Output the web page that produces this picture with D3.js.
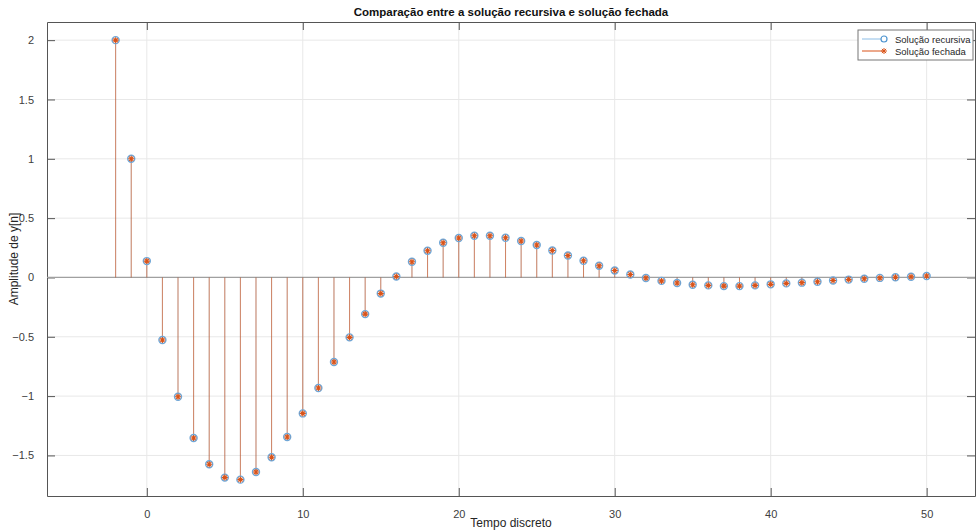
<!DOCTYPE html>
<html>
<head>
<meta charset="utf-8">
<script src="https://cdn.jsdelivr.net/npm/d3@7"></script>
<style>
  body { margin: 0; background: #fff; }
  svg { display: block; font-family: "Liberation Sans", Arial, sans-serif; }
</style>
</head>
<body>
<svg width="976" height="531"></svg>
<script>
const width = 976;
const height = 531;
const margin = { top: 22, right: 1, bottom: 35, left: 47 };

// discrete time samples n = -2..50
const n = d3.range(-2, 51);
// y[n] (both solutions coincide)
const yRecursive = [
    2, 1, 0.138, -0.527, -1.005, -1.353, -1.575, -1.687, -1.704, -1.64,
    -1.516, -1.345, -1.146, -0.932, -0.713, -0.505, -0.309, -0.136, 0.008, 0.132,
    0.225, 0.292, 0.332, 0.351, 0.351, 0.334, 0.307, 0.273, 0.227, 0.185,
    0.141, 0.099, 0.059, 0.025, -0.005, -0.029, -0.047, -0.061, -0.067, -0.073,
    -0.073, -0.067, -0.058, -0.05, -0.044, -0.036, -0.026, -0.018, -0.011, -0.004,
    0.002, 0.006, 0.012,
];
const yClosed = yRecursive.slice();

const xTicks = [0, 10, 20, 30, 40, 50];
const yTicks = [-1.5, -1, -0.5, 0, 0.5, 1, 1.5, 2];
const seriesNames = ["Solução recursiva", "Solução fechada"];

const blue = "#0072BD";
const orange = "#D95319";

const svg = d3.select("svg");

const x = d3.scaleLinear()
    .domain([-6.4, 53.1])
    .range([margin.left, width - margin.right]);
const y = d3.scaleLinear()
    .domain([-1.842, 2.153])
    .range([height - margin.bottom, margin.top]);

const x0 = margin.left, x1 = width - margin.right;
const y0 = margin.top, y1 = height - margin.bottom;

// grid
svg.append("g")
    .selectAll("line")
    .data(xTicks)
    .join("line")
    .attr("x1", d => x(d)).attr("x2", d => x(d))
    .attr("y1", y0).attr("y2", y1)
    .attr("stroke", "#e8e8e8");
svg.append("g")
    .selectAll("line")
    .data(yTicks)
    .join("line")
    .attr("x1", x0).attr("x2", x1)
    .attr("y1", d => y(d)).attr("y2", d => y(d))
    .attr("stroke", "#e8e8e8");

// axes (ticks inward, MATLAB style)
const tickLen = 8;
svg.append("g")
    .attr("transform", `translate(0,${y1})`)
    .call(d3.axisBottom(x).tickValues(xTicks).tickSizeInner(-tickLen).tickSizeOuter(0).tickPadding(14));
svg.append("g")
    .attr("transform", `translate(${x0},0)`)
    .call(d3.axisLeft(y).tickValues(yTicks).tickSizeInner(-tickLen).tickSizeOuter(0).tickPadding(13)
        .tickFormat(d => d3.format("")(d)));
svg.append("g")
    .attr("transform", `translate(0,${y0})`)
    .call(d3.axisTop(x).tickValues(xTicks).tickSizeInner(-tickLen).tickSizeOuter(0).tickFormat(""));
svg.append("g")
    .attr("transform", `translate(${x1},0)`)
    .call(d3.axisRight(y).tickValues(yTicks).tickSizeInner(-tickLen).tickSizeOuter(0).tickFormat(""));

svg.selectAll(".domain").attr("stroke", "#555");
svg.selectAll(".tick line").attr("stroke", "#555");
svg.selectAll(".tick text").attr("fill", "#404040").style("font-size", "11px");

// stem baseline
svg.append("line")
    .attr("x1", x0).attr("x2", x1)
    .attr("y1", y(0)).attr("y2", y(0))
    .attr("stroke", "#a0a0a0")
    .attr("stroke-width", 1.2);

// stems
const recData = n.map((d, i) => ({ n: d, v: yRecursive[i] }));
const closedData = n.map((d, i) => ({ n: d, v: yClosed[i] }));

svg.append("g")
    .selectAll("line")
    .data(recData)
    .join("line")
    .attr("x1", d => x(d.n)).attr("x2", d => x(d.n))
    .attr("y1", y(0)).attr("y2", d => y(d.v))
    .attr("stroke", blue)
    .attr("stroke-opacity", 0.25);
svg.append("g")
    .selectAll("line")
    .data(closedData)
    .join("line")
    .attr("x1", d => x(d.n)).attr("x2", d => x(d.n))
    .attr("y1", y(0)).attr("y2", d => y(d.v))
    .attr("stroke", orange)
    .attr("stroke-opacity", 0.65);

// markers
svg.append("g")
    .selectAll("circle")
    .data(recData)
    .join("circle")
    .attr("cx", d => x(d.n))
    .attr("cy", d => y(d.v))
    .attr("r", 3.5)
    .attr("fill", "none")
    .attr("stroke", "#6fa6d6")
    .attr("stroke-width", 1.4);

function asterisk(cx, cy, s) {
    const p = d3.path();
    p.moveTo(cx - s, cy); p.lineTo(cx + s, cy);
    p.moveTo(cx, cy - s); p.lineTo(cx, cy + s);
    const k = s * 0.7;
    p.moveTo(cx - k, cy - k); p.lineTo(cx + k, cy + k);
    p.moveTo(cx - k, cy + k); p.lineTo(cx + k, cy - k);
    return p.toString();
}
svg.append("g")
    .selectAll("path")
    .data(closedData)
    .join("path")
    .attr("d", d => asterisk(x(d.n), y(d.v), 3))
    .attr("fill", "none")
    .attr("stroke", orange)
    .attr("stroke-width", 1.1);

// title and labels
svg.append("text")
    .attr("x", (x0 + x1) / 2)
    .attr("y", 16)
    .attr("text-anchor", "middle")
    .style("font-size", "11.5px")
    .style("font-weight", "bold")
    .attr("fill", "#111")
    .text("Comparação entre a solução recursiva e solução fechada");

svg.append("text")
    .attr("x", (x0 + x1) / 2)
    .attr("y", 527)
    .attr("text-anchor", "middle")
    .style("font-size", "12px")
    .attr("fill", "#262626")
    .text("Tempo discreto");

svg.append("text")
    .attr("transform", `translate(18,${(y0 + y1) / 2}) rotate(-90)`)
    .attr("text-anchor", "middle")
    .style("font-size", "12px")
    .attr("fill", "#262626")
    .text("Amplitude de y[n]");

// legend
const lg = svg.append("g").attr("transform", "translate(858,30)");
lg.append("rect")
    .attr("width", 115).attr("height", 30)
    .attr("fill", "#fff")
    .attr("stroke", "#777");
seriesNames.forEach((name, i) => {
    const cy = 9 + i * 12;
    lg.append("line")
        .attr("x1", 4).attr("x2", 26)
        .attr("y1", cy).attr("y2", cy)
        .attr("stroke", i === 0 ? "#8cbde6" : orange);
    if (i === 0) {
        lg.append("circle").attr("cx", 26).attr("cy", cy).attr("r", 3)
            .attr("fill", "#fff").attr("stroke", "#4f95d0").attr("stroke-width", 1.2);
    } else {
        lg.append("path").attr("d", asterisk(26, cy, 3))
            .attr("stroke", orange).attr("fill", "none");
    }
    lg.append("text")
        .attr("x", 37).attr("y", cy + 3.5)
        .style("font-size", "9.5px")
        .attr("fill", "#262626")
        .text(name);
});
</script>
</body>
</html>
